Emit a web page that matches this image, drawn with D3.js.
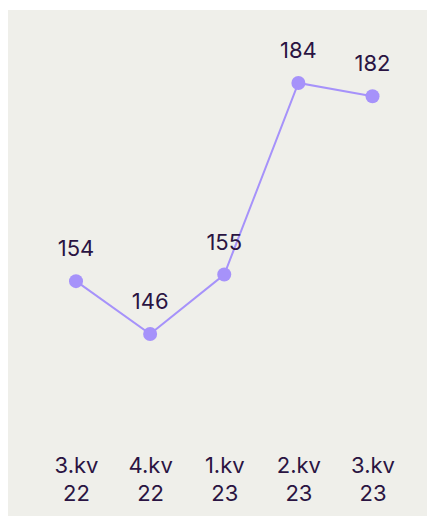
<!DOCTYPE html>
<html>
<head>
<meta charset="utf-8">
<script src="https://cdn.jsdelivr.net/npm/d3@7"></script>
<style>
  body { margin: 0; background: #fff; }
  svg { display: block; font-family: Inter, "Noto Sans", sans-serif; }
</style>
</head>
<body>
<div class="chart"></div>
<script>
/* data */
const quarters = ['3.kv 22', '4.kv 22', '1.kv 23', '2.kv 23', '3.kv 23']
const values = [154, 146, 155, 184, 182]

const width = 427
const height = 516
const bg = { x: 8, y: 10 }
const ink = '#2a1442'

const svg = d3.select('.chart')
    .append('svg')
    .attr('width', width)
    .attr('height', height)

svg.append('rect') // panel
    .attr('x', bg.x)
    .attr('y', bg.y)
    .attr('width', width - bg.x)
    .attr('height', height - bg.y)
    .style('fill', '#efefea')

const x = d3.scalePoint()
    .domain(quarters)
    .range([76, 372.5])

const y = d3.scaleLinear()
    .domain(d3.extent(values))
    .range([334, 83])

const pts = quarters.map((q, i) => ({ q: q, v: values[i] }))

// line
svg.append('path')
    .datum(pts)
    .attr('d', d3.line().x(d => x(d.q)).y(d => y(d.v)))
    .style('fill', 'none')
    .style('stroke', '#a692fa')
    .style('stroke-width', 2)

// dots
svg.selectAll('circle.dot')
    .data(pts)
    .join('circle')
    .attr('class', 'dot')
    .attr('cx', d => x(d.q))
    .attr('cy', d => y(d.v))
    .attr('r', 7)
    .style('fill', '#a692fa')

// value labels
svg.selectAll('text.val')
    .data(pts)
    .join('text')
    .attr('class', 'val')
    .attr('x', d => x(d.q))
    .attr('y', d => y(d.v) - 25)
    .attr('text-anchor', 'middle')
    .style('font-size', '22px')
    .style('fill', ink)
    .text(d => d.v)

// x axis, two line labels
const axis = svg.append('g')
    .attr('transform', 'translate(0,473)')
    .call(d3.axisBottom(x).tickSize(0).tickPadding(0))
axis.select('.domain').remove()
axis.selectAll('.tick text')
    .attr('y', 0)
    .attr('dy', 0)
    .style('font-size', '22px')
    .style('font-family', 'Inter, "Noto Sans", sans-serif')
    .style('fill', ink)
    .each(function (d) {
        const t = d3.select(this)
        const parts = d.split(' ')
        t.text('')
        parts.forEach((p, i) => {
            t.append('tspan')
                .attr('x', 0)
                .attr('y', i * 28)
                .text(p)
        })
    })
</script>
</body>
</html>
